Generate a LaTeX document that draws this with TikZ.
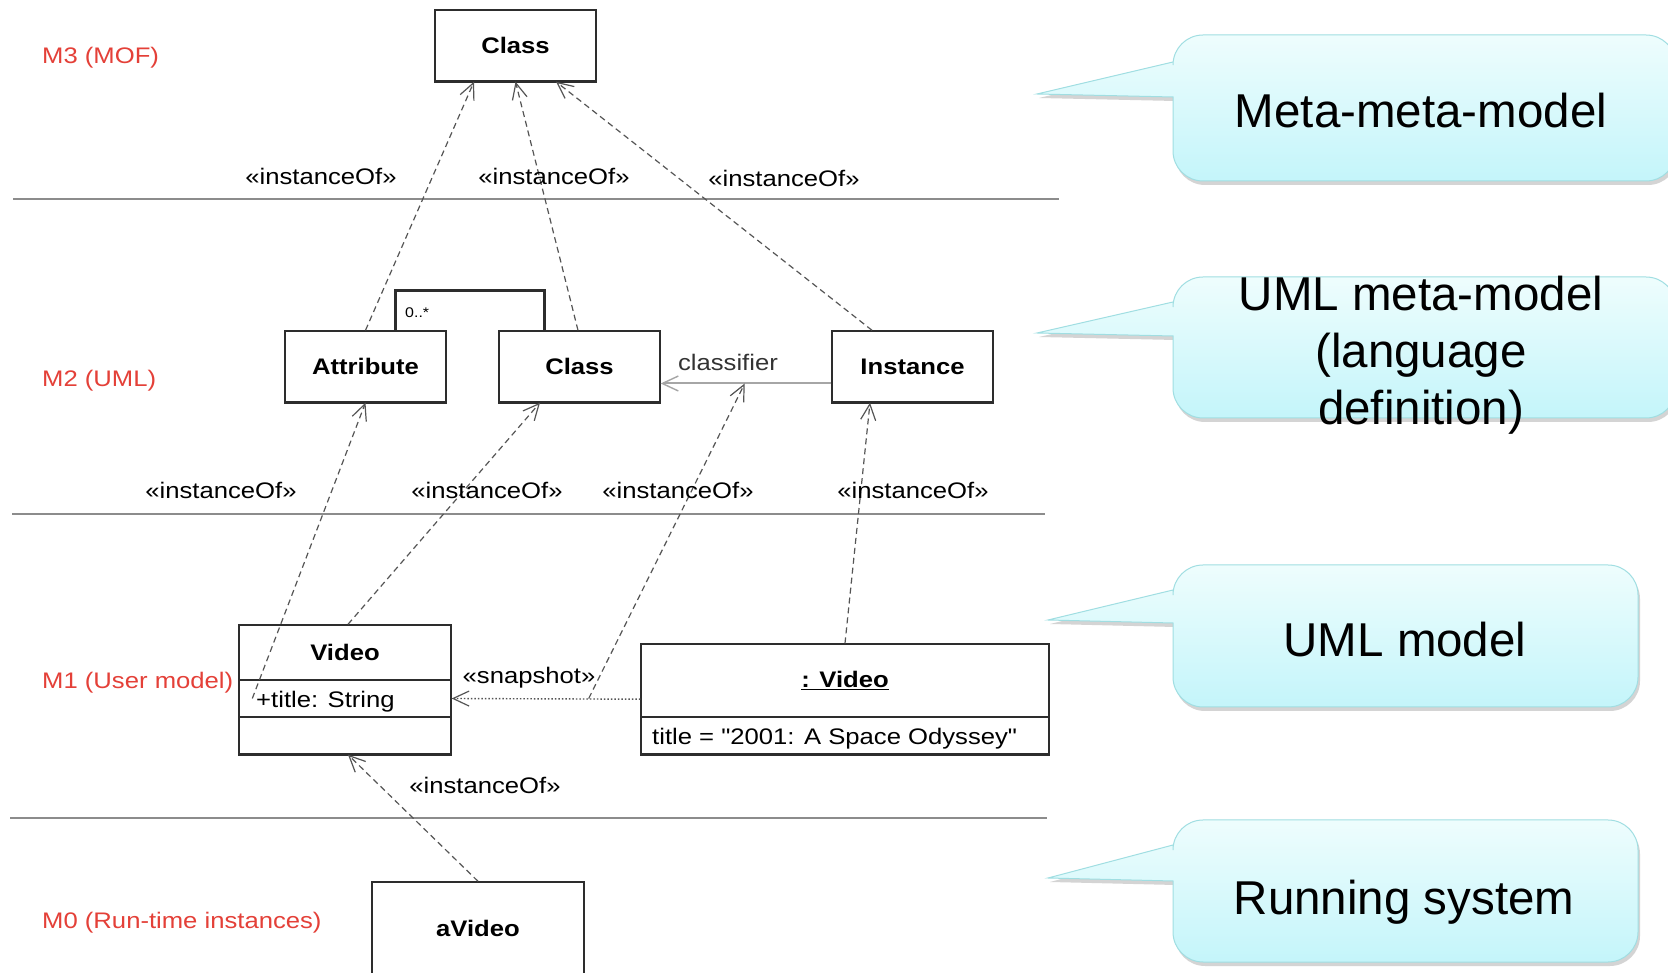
\documentclass[tikz,border=0pt]{standalone}
\usepackage{fontspec}
\setmainfont{Liberation Sans}
\newfontfamily\dfont[FakeStretch=1.14]{Liberation Sans}
\usetikzlibrary{arrows.meta,calc}
\definecolor{mred}{RGB}{228,64,56}
\definecolor{ctop}{RGB}{238,253,253}
\definecolor{cbot}{RGB}{196,245,250}
\definecolor{cedge}{RGB}{160,222,226}
\definecolor{boxc}{RGB}{45,45,45}
\definecolor{linec}{RGB}{85,85,85}
\definecolor{sepc}{RGB}{140,140,140}
\newcommand\dtext{\dfont\fontsize{22.5}{27}\selectfont}
\newcommand\ctxt{\fontsize{47.5}{57}\selectfont}
% tip x, tip y, upper join y, lower join y, top, bottom, right
\newcommand\mycallout[7]{%
  \fill[gray!60,opacity=0.55,shift={(2,-4)}] (#1,#2) -- (1173,#3) -- (1173,#5-30)
    arc[start angle=180,end angle=90,radius=30pt] -- (#7-30,#5)
    arc[start angle=90,end angle=0,radius=30pt] -- (#7,#6+30)
    arc[start angle=0,end angle=-90,radius=30pt] -- (1203,#6)
    arc[start angle=270,end angle=180,radius=30pt] -- (1173,#4) -- cycle;
  \shadedraw[top color=ctop,bottom color=cbot,draw=cedge,line width=1pt]
    (#1,#2) -- (1173,#3) -- (1173,#5-30)
    arc[start angle=180,end angle=90,radius=30pt] -- (#7-30,#5)
    arc[start angle=90,end angle=0,radius=30pt] -- (#7,#6+30)
    arc[start angle=0,end angle=-90,radius=30pt] -- (1203,#6)
    arc[start angle=270,end angle=180,radius=30pt] -- (1173,#4) -- cycle;
}
\tikzset{
  umlbox/.style={draw=boxc,line width=1.4pt,fill=white,minimum width=161pt,
    minimum height=71pt,inner sep=0pt,font=\dtext\bfseries},
  lbl/.style={font=\dtext,inner sep=0pt},
  lvl/.style={font=\dtext,text=mred,anchor=west,inner sep=0pt},
  ctext/.style={font=\ctxt,inner sep=0pt,align=center},
  instof/.style={draw=linec,line width=1.2pt,dash pattern=on 6pt off 4pt,
    -{Straight Barb[length=16pt,width=15pt,line width=1.2pt]}},
  snapline/.style={draw=linec,line width=1.4pt,dash pattern=on 1.5pt off 2pt,
    -{Straight Barb[length=16pt,width=15pt,line width=1.2pt]}},
  assoc/.style={draw=gray!70,line width=2pt,
    -{Straight Barb[length=16pt,width=15pt,line width=1.4pt]}},
  sepline/.style={draw=sepc,line width=2pt},
  bracketline/.style={draw=boxc,line width=2.5pt},
  bottomline/.style={draw=boxc,line width=3pt},
}
\begin{document}
\begin{tikzpicture}[x=1pt,y=1pt]
\useasboundingbox (0,0) rectangle (1668,972);
\fill[white] (0,0) rectangle (1668,972);

% level separators
\draw[sepline] (13,773) -- (1059,773);
\draw[sepline] (12,458) -- (1045,458);
\draw[sepline] (10,154) -- (1047,154);

% level labels
\node[lvl] (m3) at (42,914) {M3 (MOF)};
\node[lvl] (m2) at (42,591) {M2 (UML)};
\node[lvl] (m1) at (42,289) {M1 (User model)};
\node[lvl] (m0) at (42,49) {M0 (Run-time instances)};

% self association bracket (drawn first, boxes on top)
\node[umlbox] (attr) at (365.5,605.5) {Attribute};
\node[umlbox] (cls2) at (579.5,605.5) {Class};
\draw[bracketline] ($(attr.north west)+(111,0)$) |- ($(cls2.north west)+(46,40)$) -- ($(cls2.north west)+(46,0)$);
\node[font=\dfont\fontsize{14}{16}\selectfont,anchor=west,inner sep=0pt] (mult) at (405,659) {0..*};

% boxes
\node[umlbox] (cls3) at (515.5,926.5) {Class};
\node[umlbox] (inst) at (912.5,605.5) {Instance};
\node[umlbox,minimum width=212pt,minimum height=55pt] (vidname) at (345,319.5) {Video};
\node[umlbox,minimum width=212pt,minimum height=37pt] (vidattr) at (345,273.5) {};
\node[umlbox,minimum width=212pt,minimum height=37pt] (vidops) at (345,236.5) {};
\node[lbl,anchor=west] (vidattrtxt) at (256,270.5) {+title: String};
\node[umlbox,minimum width=408pt,minimum height=73pt] (objname) at (845,291.5) {\raisebox{-2pt}{\underline{: Video}}};
\node[umlbox,minimum width=408pt,minimum height=37pt] (objattr) at (845,236.5) {};
\node[lbl,anchor=west] (objattrtxt) at (652,233.5) {title = "2001: A Space Odyssey"};
\node[umlbox,minimum width=212pt,minimum height=93pt] (avid) at (478,43.5) {aVideo};

\foreach \n in {cls3,attr,cls2,inst,vidops,objattr}
  \draw[bottomline] (\n.south west) -- (\n.south east);

% classifier association
\draw[assoc] ($(inst.west)+(0,-17)$) -- ($(cls2.east)+(0,-17)$);
\node[lbl,text=black!80] (clsf) at (728,610) {classifier};
\coordinate (clp) at ($(cls2.east)+(84,-17)$);

% snapshot
\draw[snapline] ($(objname.south west)+(0,18.5)$) -- (vidattr.east);
\coordinate (snp) at ($(vidattr.east)+(137,0)$);
\node[lbl] (snaplbl) at (529,294) {«snapshot»};

% instanceOf dependencies
\draw[instof] (attr.north) -- ($(cls3.south)+(-41.5,0)$);
\draw[instof] ($(cls2.north)+(-1.5,0)$) -- (cls3.south);
\draw[instof] ($(inst.north)+(-40.5,0)$) -- ($(cls3.south)+(40.5,0)$);
\draw[instof] ($(vidattr.west)+(14,0)$) -- (attr.south);
\draw[instof] ($(vidname.north)+(3,0)$) -- ($(cls2.south)+(-39.5,0)$);
\draw[instof] (snp) -- (clp);
\draw[instof] (objname.north) -- ($(inst.south)+(-42.5,0)$);
\draw[instof] (avid.north) -- ($(vidops.south)+(3,0)$);

\node[lbl] (i1) at (321,796) {«instanceOf»};
\node[lbl] (i2) at (554,796) {«instanceOf»};
\node[lbl] (i3) at (784,794) {«instanceOf»};
\node[lbl] (i4) at (221,482) {«instanceOf»};
\node[lbl] (i5) at (487,482) {«instanceOf»};
\node[lbl] (i6) at (678,482) {«instanceOf»};
\node[lbl] (i7) at (913,482) {«instanceOf»};
\node[lbl] (i8) at (485,187) {«instanceOf»};

% callouts
\mycallout{1037}{878}{910}{875}{937}{791}{1676}
\node[ctext] (c1) at (1421,861) {Meta-meta-model};
\mycallout{1037}{639}{670}{636}{695}{554}{1676}
\node[ctext] (c2) at (1421,617) {UML meta-model\\(language\\definition)};
\mycallout{1048}{352}{382}{349}{407}{265}{1638}
\node[ctext] (c3) at (1405,332) {UML model};
\mycallout{1048}{94}{127}{91}{152}{10}{1638}
\node[ctext] (c4) at (1404,70) {Running system};
\end{tikzpicture}
\end{document}
